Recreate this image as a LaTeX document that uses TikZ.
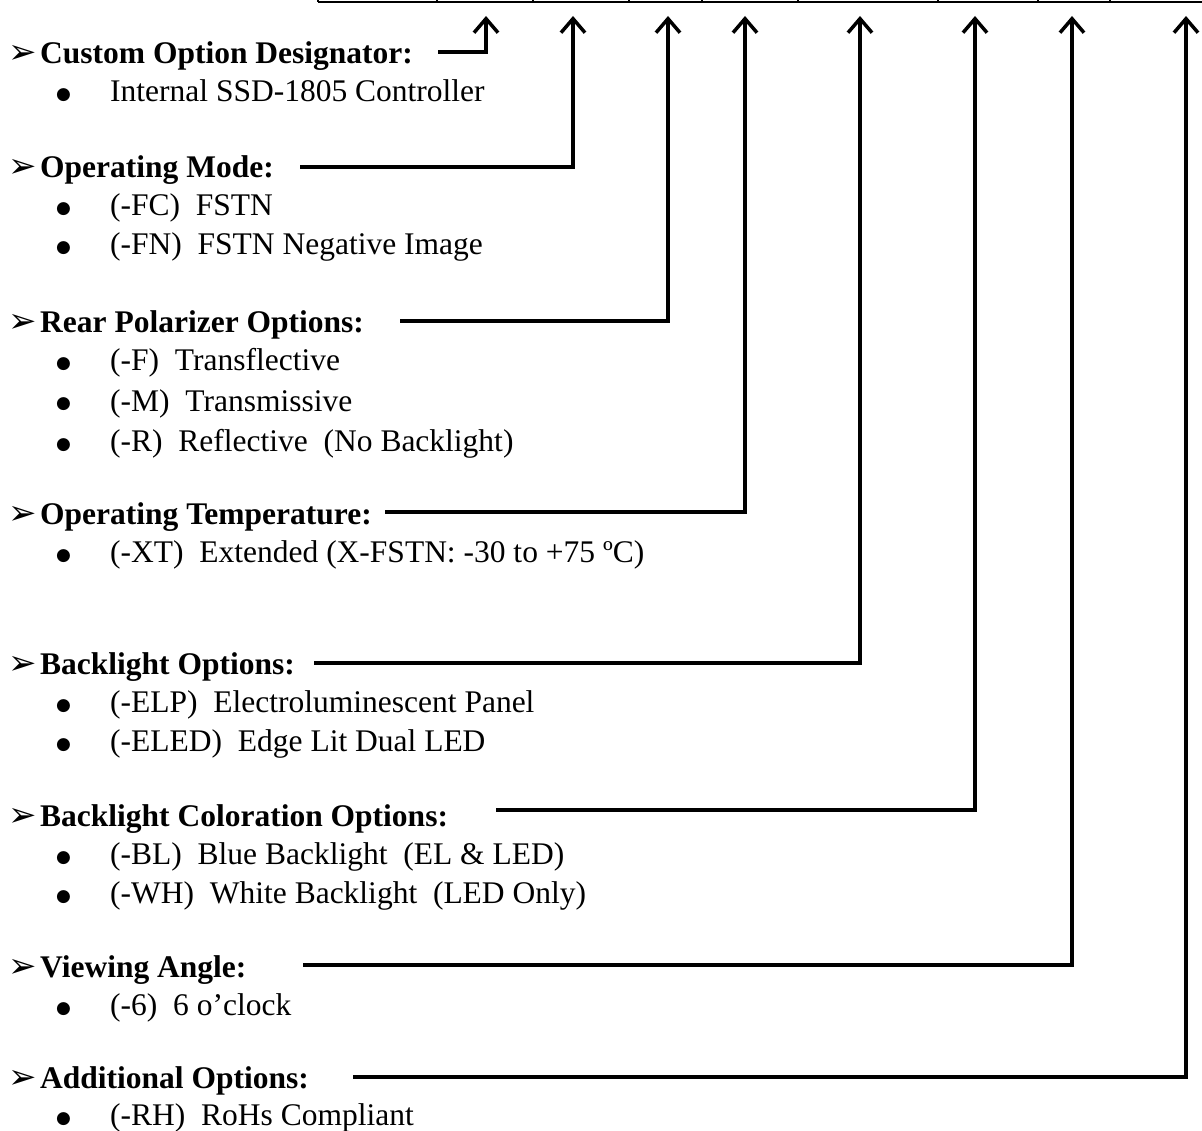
\documentclass[tikz,border=0pt]{standalone}
\usepackage{fontspec}
\setmainfont{Liberation Serif}
\newfontfamily\symfont{DejaVu Sans}
\usetikzlibrary{arrows.meta}
\newcommand{\hd}[1]{\makebox[32pt][l]{\raisebox{0pt}{\symfont\fontsize{34}{34}\selectfont ➢}}#1}
\newcommand{\bul}[1]{\makebox[54pt][l]{\raisebox{2pt}{\symfont\fontsize{17}{17}\selectfont ●}}#1}
\begin{document}
\begin{tikzpicture}[x=1pt,y=-1pt,
    heading/.style={anchor=base west,inner sep=0pt,font=\fontsize{31.5}{38}\selectfont\bfseries},
    item/.style={anchor=base west,inner sep=0pt,font=\fontsize{31.5}{38}\selectfont},
    lead/.style={line width=3.5pt,-{Straight Barb[length=14pt,width=24pt,line width=3.5pt]}}
  ]
  \useasboundingbox (0,0) rectangle (1202,1131);
  % bottom edge of the part number boxes
  \draw[line width=2.2pt] (318,2) -- (1202,2);
  \draw[line width=1.4pt] (318,-1) -- (318,2);
  \draw[line width=1.4pt] (437,-1) -- (437,2);
  \draw[line width=1.4pt] (533,-1) -- (533,2);
  \draw[line width=1.4pt] (629,-1) -- (629,2);
  \draw[line width=1.4pt] (702,-1) -- (702,2);
  \draw[line width=1.4pt] (798,-1) -- (798,2);
  \draw[line width=1.4pt] (938,-1) -- (938,2);
  \draw[line width=1.4pt] (1038,-1) -- (1038,2);
  \draw[line width=1.4pt] (1110,-1) -- (1110,2);

  % option groups
  \node[heading] (custom) at (8,64) {\hd{Custom Option Designator:}};
  \node[item] (custom1) at (56,102) {\bul{Internal SSD-1805 Controller}};

  \node[heading] (mode) at (8,178) {\hd{Operating Mode:}};
  \node[item] (mode1) at (56,216) {\bul{(-FC)\ \ FSTN}};
  \node[item] (mode2) at (56,255) {\bul{(-FN)\ \ FSTN Negative Image}};

  \node[heading] (rear) at (8,333) {\hd{Rear Polarizer Options:}};
  \node[item] (rear1) at (56,371) {\bul{(-F)\ \ Transflective}};
  \node[item] (rear2) at (56,411) {\bul{(-M)\ \ Transmissive}};
  \node[item] (rear3) at (56,451) {\bul{(-R)\ \ Reflective\ \ (No Backlight)}};

  \node[heading] (temp) at (8,524) {\hd{Operating Temperature:}};
  \node[item] (temp1) at (56,562) {\bul{(-XT)\ \ Extended (X-FSTN: -30 to +75 ºC)}};

  \node[heading] (backl) at (8,674) {\hd{Backlight Options:}};
  \node[item] (backl1) at (56,712) {\bul{(-ELP)\ \ Electroluminescent Panel}};
  \node[item] (backl2) at (56,751) {\bul{(-ELED)\ \ Edge Lit Dual LED}};

  \node[heading] (color) at (8,826) {\hd{Backlight Coloration Options:}};
  \node[item] (color1) at (56,864) {\bul{(-BL)\ \ Blue Backlight\ \ (EL \& LED)}};
  \node[item] (color2) at (56,903) {\bul{(-WH)\ \ White Backlight\ \ (LED Only)}};

  \node[heading] (view) at (8,977) {\hd{Viewing Angle:}};
  \node[item] (view1) at (56,1015) {\bul{(-6)\ \ 6 o’clock}};

  \node[heading] (addl) at (8,1088) {\hd{Additional Options:}};
  \node[item] (addl1) at (56,1125) {\bul{(-RH)\ \ RoHs Compliant}};

  % leaders up to the boxes
  \coordinate (custom-a) at (438,52);   \coordinate (custom-b) at (486,16);
  \coordinate (mode-a) at (300,167);    \coordinate (mode-b) at (573,16);
  \coordinate (rear-a) at (400,321);    \coordinate (rear-b) at (668,16);
  \coordinate (temp-a) at (385,512);    \coordinate (temp-b) at (745,16);
  \coordinate (backl-a) at (314,663);   \coordinate (backl-b) at (860,16);
  \coordinate (color-a) at (496,810);   \coordinate (color-b) at (975,16);
  \coordinate (view-a) at (303,965);    \coordinate (view-b) at (1072,16);
  \coordinate (addl-a) at (353,1077);   \coordinate (addl-b) at (1186,16);
  \draw[lead] (custom-a) -| (custom-b);
  \draw[lead] (mode-a) -| (mode-b);
  \draw[lead] (rear-a) -| (rear-b);
  \draw[lead] (temp-a) -| (temp-b);
  \draw[lead] (backl-a) -| (backl-b);
  \draw[lead] (color-a) -| (color-b);
  \draw[lead] (view-a) -| (view-b);
  \draw[lead] (addl-a) -| (addl-b);
\end{tikzpicture}
\end{document}
